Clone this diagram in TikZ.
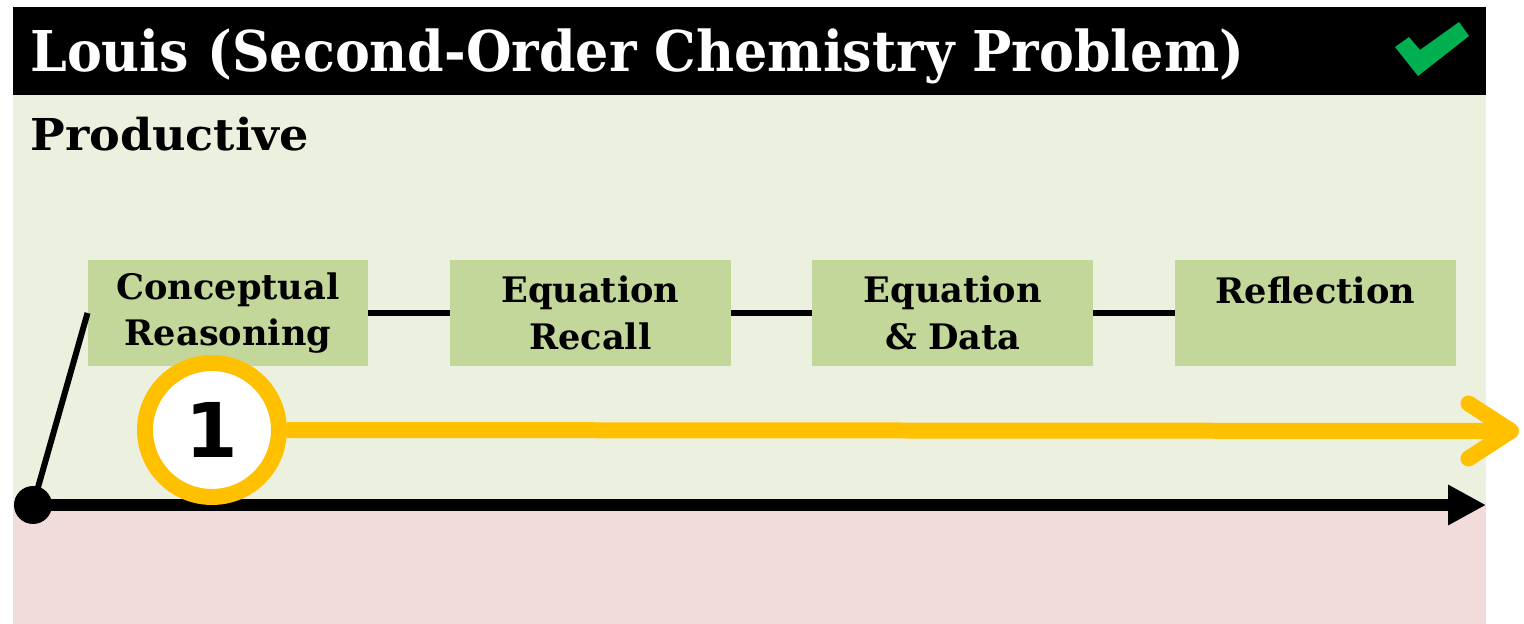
\documentclass[tikz,border=0pt]{standalone}
\usepackage{fontspec}
\usetikzlibrary{arrows.meta,positioning}
\newfontfamily\numfont{DejaVu Sans}
\newfontfamily\slabfont{DejaVu Serif}
\newfontfamily\titlefont[FakeStretch=0.93]{DejaVu Serif}
\newfontfamily\bandfont[FakeStretch=1.05]{DejaVu Serif}
\definecolor{prodgreen}{HTML}{EBF1DE}
\definecolor{unprodpink}{HTML}{F2DCDB}
\definecolor{stepgreen}{HTML}{C4D79B}
\definecolor{markyellow}{HTML}{FFC000}
\definecolor{checkgreen}{HTML}{00B050}
\tikzset{
  stepbox/.style={fill=stepgreen, minimum width=5.62cm, minimum height=2.12cm, inner sep=0pt, outer sep=0pt,
    text width=5.4cm, align=center, font=\slabfont\bfseries\fontsize{20}{26.5}\selectfont},
  link/.style={line width=0.12cm, black}
}
\begin{document}
\begin{tikzpicture}[x=0.02cm, y=-0.02cm, node distance=1.63cm]
  \useasboundingbox (0,0) rectangle (1524,624);
  \fill[white] (0,0) rectangle (1524,624);
  \fill[prodgreen] (13,95) rectangle (1486,505); % productive band
  \fill[unprodpink] (13,505) rectangle (1486,624); % unproductive band
  \fill[black] (13,7) rectangle (1486,95); % title bar
  \node[anchor=base west, text=white, inner sep=0pt, font=\titlefont\bfseries\fontsize{32}{40}\selectfont] (title) at (30,72) {Louis (Second-Order Chemistry Problem)};
  \fill[checkgreen] (1395,47) -- (1409,37) -- (1420,50) -- (1459,22) -- (1469,36) -- (1418,76) -- cycle; % check mark
  \node[anchor=base west, inner sep=0pt, font=\bandfont\bfseries\fontsize{25}{30}\selectfont] (band) at (30,151) {Productive};

  % steps
  \node[stepbox] (concept) at (228,313) {Conceptual\\Reasoning};
  \node[stepbox, right=of concept] (recall) {Equation\\Recall};
  \node[stepbox, right=of recall] (data) {Equation\\\& Data};
  \node[stepbox, right=of data] (reflect) {Reflection\\\mbox{}};
  \draw[link] (concept) -- (recall);
  \draw[link] (recall) -- (data);
  \draw[link] (data) -- (reflect);

  % time axis
  \node[circle, fill=black, minimum size=0.76cm, inner sep=0pt] (origin) at (33,505) {};
  \coordinate (axisend) at (1486,505);
  \draw[line width=0.24cm, -{Triangle[length=0.76cm, width=0.76cm]}] (origin.center) -- (axisend);
  \draw[link] (origin.center) -- (concept.west);

  % episode marker
  \node[circle, draw=markyellow, line width=0.32cm, fill=white, minimum size=2.68cm, inner sep=0pt,
    font=\numfont\bfseries\fontsize{43}{50}\selectfont] (ep1) at (212,430) {1};
  \coordinate (epend) at (1519,431);
  \draw[markyellow, line width=0.32cm, -{Straight Barb[length=0.85cm, width=1.1cm, round]}] (ep1.east) -- (epend);
\end{tikzpicture}
\end{document}
